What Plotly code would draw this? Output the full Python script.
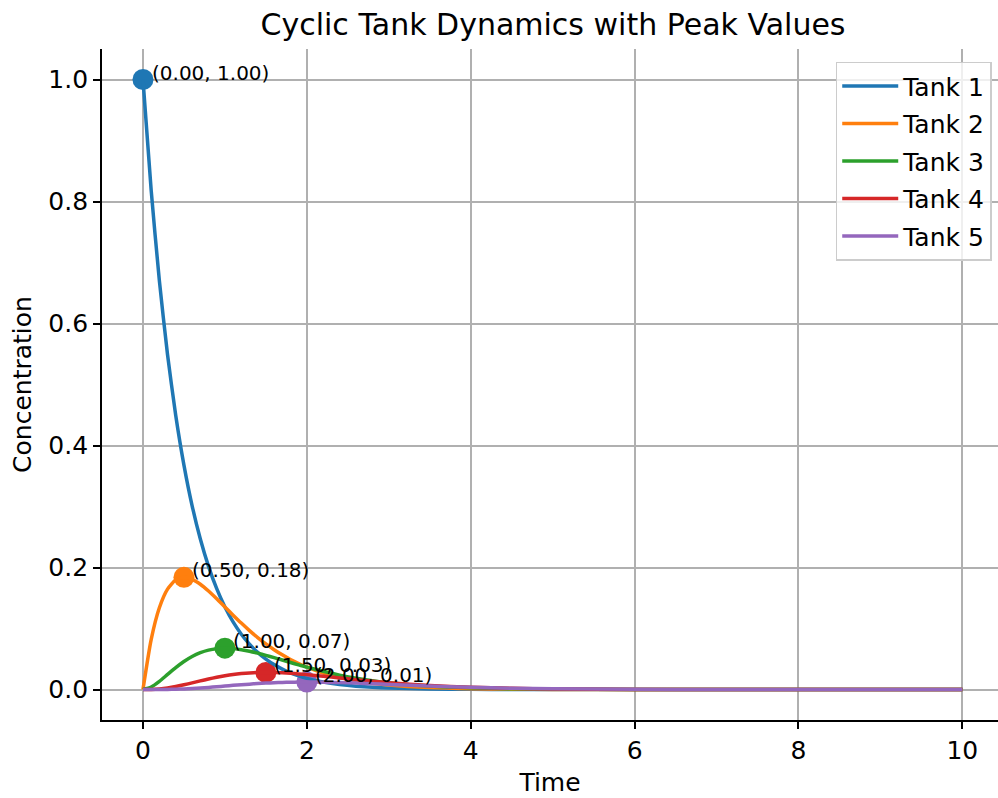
import plotly.graph_objects as go

# ---- data ----
time = [0.0, 0.1, 0.2, 0.3, 0.4, 0.5, 0.6, 0.7, 0.8, 0.9, 1.0, 1.1, 1.2, 1.3, 1.4,
        1.5, 1.6, 1.7, 1.8, 1.9, 2.0, 2.2, 2.4, 2.6, 2.8, 3.0, 3.5, 4.0, 4.5, 5.0,
        6.0, 7.0, 8.0, 9.0, 10.0]

tank1 = [1.0, 0.8187, 0.6703, 0.5488, 0.4493, 0.3679, 0.3012, 0.2466, 0.2019, 0.1653,
         0.1353, 0.1108, 0.0907, 0.0743, 0.0608, 0.0498, 0.0408, 0.0334, 0.0273, 0.0224,
         0.0183, 0.0123, 0.0082, 0.0055, 0.0037, 0.0025, 0.0009, 0.0003, 0.0001, 0.0,
         0.0, 0.0, 0.0, 0.0, 0.0]
tank2 = [0.0, 0.0819, 0.1341, 0.1646, 0.1797, 0.1839, 0.1807, 0.1726, 0.1615, 0.1488,
         0.1353, 0.1219, 0.1089, 0.0966, 0.0852, 0.0747, 0.0653, 0.0568, 0.0492, 0.0426,
         0.0366, 0.0271, 0.0198, 0.0143, 0.0104, 0.0074, 0.0032, 0.0013, 0.0006, 0.0002,
         0.0, 0.0, 0.0, 0.0, 0.0]
tank3 = [0.0, 0.0041, 0.0134, 0.0247, 0.0359, 0.0460, 0.0542, 0.0604, 0.0646, 0.0669,
         0.0677, 0.0670, 0.0653, 0.0628, 0.0596, 0.0560, 0.0522, 0.0483, 0.0442, 0.0404,
         0.0366, 0.0298, 0.0236, 0.0186, 0.0145, 0.0112, 0.0056, 0.0027, 0.0012, 0.0006,
         0.0001, 0.0, 0.0, 0.0, 0.0]
tank4 = [0.0, 0.0001, 0.0009, 0.0025, 0.0048, 0.0077, 0.0108, 0.0141, 0.0172, 0.0201,
         0.0226, 0.0246, 0.0261, 0.0272, 0.0278, 0.0280, 0.0279, 0.0273, 0.0265, 0.0256,
         0.0244, 0.0218, 0.0189, 0.0161, 0.0135, 0.0112, 0.0065, 0.0036, 0.0019, 0.0009,
         0.0002, 0.0, 0.0, 0.0, 0.0]
tank5 = [0.0, 0.0, 0.0, 0.0002, 0.0005, 0.0010, 0.0016, 0.0025, 0.0034, 0.0045,
         0.0056, 0.0068, 0.0078, 0.0088, 0.0097, 0.0105, 0.0111, 0.0116, 0.0119, 0.0122,
         0.0122, 0.0120, 0.0113, 0.0105, 0.0095, 0.0084, 0.0057, 0.0036, 0.0021, 0.0012,
         0.0003, 0.0001, 0.0, 0.0, 0.0]

tank_names = ["Tank 1", "Tank 2", "Tank 3", "Tank 4", "Tank 5"]
tank_series = [tank1, tank2, tank3, tank4, tank5]
colors = ["#1f77b4", "#ff7f0e", "#2ca02c", "#d62728", "#9467bd"]

# peak points (time, value) as labelled in the reference
peak_times = [0.0, 0.5, 1.0, 1.5, 2.0]
peak_values = [1.0, 0.1839, 0.0677, 0.0280, 0.0122]

FONT = "DejaVu Sans"

fig = go.Figure()

# peak markers (drawn below the lines, as in the reference)
for name, c, pt, pv in zip(tank_names, colors, peak_times, peak_values):
    fig.add_trace(go.Scatter(
        x=[pt], y=[pv], mode="markers",
        marker=dict(color=c, size=21, line=dict(width=0)),
        showlegend=False, hoverinfo="skip"))

# lines
for name, c, ys in zip(tank_names, colors, tank_series):
    fig.add_trace(go.Scatter(
        x=time, y=ys, mode="lines", name=name, legendgroup=name,
        line=dict(color=c, width=3.5, shape="spline", smoothing=0.6)))

# peak labels
for pt, pv in zip(peak_times, peak_values):
    fig.add_annotation(
        x=pt + 0.08, y=pv, xref="x", yref="y",
        text=f"({pt:.2f}, {pv:.2f})", showarrow=False,
        xanchor="left", yanchor="middle", yshift=7,
        font=dict(family=FONT, size=20, color="black"))

axis_common = dict(
    showgrid=True, gridcolor="#b0b0b0", gridwidth=1.8,
    zeroline=False, showline=True, linecolor="black", linewidth=1.8,
    ticks="outside", ticklen=7, tickwidth=1.8, tickcolor="black",
    tickfont=dict(family=FONT, size=25, color="black"),
    mirror=False,
)

fig.update_layout(
    width=998, height=798,
    margin=dict(l=102, r=0, t=49, b=78),
    paper_bgcolor="white", plot_bgcolor="white",
    font=dict(family=FONT, color="black"),
    title=dict(text="Cyclic Tank Dynamics with Peak Values",
               x=553 / 998, xref="container", xanchor="center",
               y=1 - 24 / 798, yref="container", yanchor="middle",
               font=dict(family=FONT, size=30, color="black")),
    xaxis=dict(range=[-0.5, 10.435], tickvals=[0, 2, 4, 6, 8, 10],
               title=dict(text="Time", font=dict(family=FONT, size=25), standoff=10),
               **axis_common),
    yaxis=dict(range=[-0.05, 1.05], tickvals=[0, 0.2, 0.4, 0.6, 0.8, 1.0],
               tickformat=".1f",
               title=dict(text="Concentration", font=dict(family=FONT, size=25), standoff=10),
               **axis_common),
    legend=dict(x=0.993, y=0.981, xanchor="right", yanchor="top",
                bgcolor="rgba(255,255,255,0.8)", bordercolor="#cccccc", borderwidth=1.5,
                font=dict(family=FONT, size=25, color="black"),
                tracegroupgap=2, itemwidth=56),
    showlegend=True,
)

fig.write_html("out.html")
